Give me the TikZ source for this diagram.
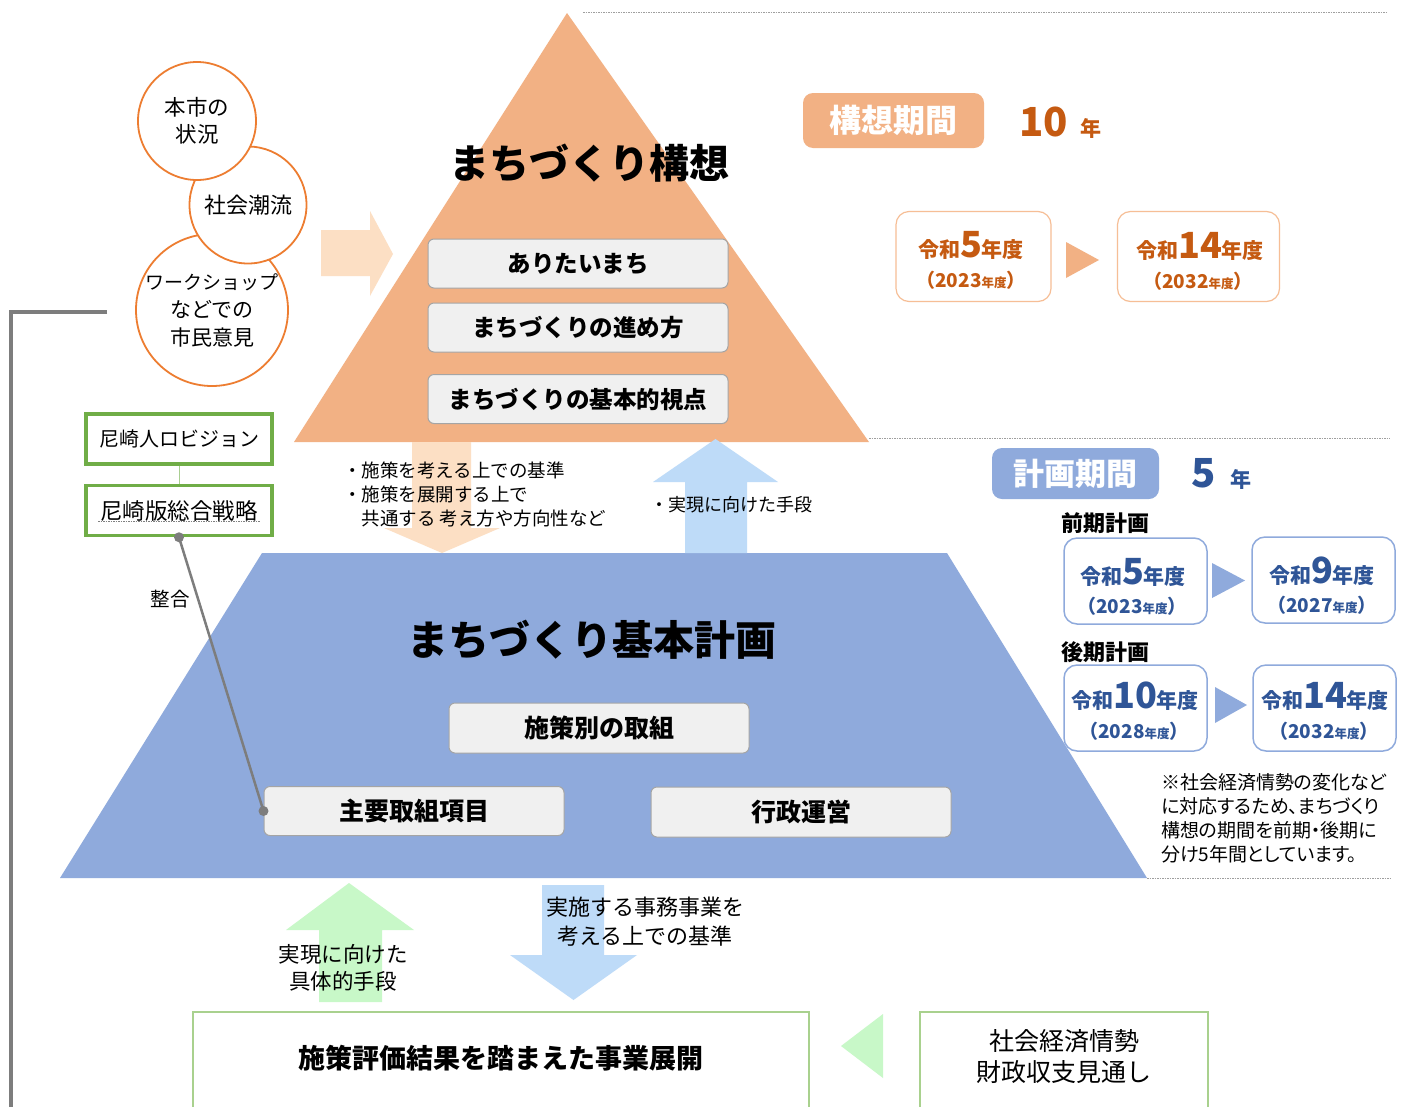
\documentclass[tikz,border=0pt]{standalone}
\usepackage{fontspec}
\setmainfont{Noto Sans CJK JP}
\newfontfamily\jpp[RawFeature=+palt]{Noto Sans CJK JP}
\usetikzlibrary{calc}
\definecolor{tri}{RGB}{242,177,132}
\definecolor{peach}{RGB}{252,223,196}
\definecolor{trap}{RGB}{143,170,220}
\definecolor{lblue}{RGB}{190,219,248}
\definecolor{lgreen}{RGB}{200,248,200}
\definecolor{circo}{RGB}{237,125,49}
\definecolor{gboxc}{RGB}{112,173,71}
\definecolor{boxfill}{RGB}{240,240,240}
\definecolor{boxline}{RGB}{165,165,165}
\definecolor{otext}{RGB}{197,90,17}
\definecolor{oborder}{RGB}{246,190,150}
\definecolor{btext}{RGB}{47,85,151}
\definecolor{bborder}{RGB}{143,170,220}
\definecolor{bgreen}{RGB}{169,209,142}
\definecolor{lnGray}{RGB}{125,125,125}
\newcommand{\myfs}[1]{\fontsize{#1}{#1}\selectfont}
\newcommand{\prdtop}[1]{{\myfs{21}令和}{\myfs{36}#1}{\myfs{21}年度}}
\newcommand{\prdbot}[1]{{\myfs{19}（#1{\myfs{12.5}年度}）}}
\tikzset{
  grbox/.style={draw=boxline, fill=boxfill, line width=1pt, rounded corners=6pt, minimum width=300pt, minimum height=49pt, inner sep=0pt, font=\myfs{23.5}\bfseries},
  lobox/.style={grbox, font=\myfs{25}\bfseries},
  circ/.style={circle, draw=circo, fill=white, line width=1.8pt, inner sep=0pt, align=center},
  gbox/.style={draw=gboxc, fill=white, line width=3.5pt, minimum width=186pt, minimum height=50pt, inner sep=0pt},
  obox/.style={draw=oborder, fill=white, rounded corners=13pt, line width=1.2pt, inner sep=0pt},
  bbox/.style={draw=bborder, fill=white, rounded corners=13pt, line width=1.5pt, inner sep=0pt},
  otxt/.style={anchor=base, inner sep=0pt, text=otext, font=\bfseries},
  btxt/.style={anchor=base, inner sep=0pt, text=btext, font=\bfseries},
  dotline/.style={draw=gray!75, line width=0.8pt, dash pattern=on 1.5pt off 1pt},
  plain/.style={inner sep=0pt, align=center},
  btmbox/.style={draw=bgreen, fill=white, line width=1.2pt, inner sep=0pt}
}
\begin{document}
\begin{tikzpicture}[x=1pt,y=-1pt]
\useasboundingbox (0,0) rectangle (1410,1106);
\fill[white] (0,0) rectangle (1410,1106);

% dotted separators
\draw[dotline] (583,12) -- (1388,12);
\draw[dotline] (869,438) -- (1390,438);
\draw[dotline] (1147,878) -- (1390,878);

% left gray L line
\coordinate (lstart) at (107,312);
\coordinate (lcorner) at (11,312);
\coordinate (lend) at (11,1110);
\draw[lnGray, line width=4pt] (lstart) -- (lcorner) -- (lend);

% pyramid top
\fill[tri] (567,13) -- (869,442) -- (294,442) -- cycle;
% trapezoid
\fill[trap] (262,553) -- (947,553) -- (1147,878) -- (60,878) -- cycle;

% arrows
\fill[peach] (321,230) -- (370,230) -- (370,211) -- (393,254) -- (370,296) -- (370,276) -- (321,276) -- cycle;
\fill[peach] (412,442) -- (471,442) -- (471,528) -- (500,528) -- (442,553) -- (384,528) -- (412,528) -- cycle;
\fill[lblue] (685,553) -- (685,482) -- (653,482) -- (715.5,439) -- (778,482) -- (747,482) -- (747,553) -- cycle;
\fill[lgreen] (319,1002) -- (319,930) -- (286,930) -- (349,883) -- (414,930) -- (382,930) -- (382,1002) -- cycle;
\fill[lblue] (542,885) -- (604,885) -- (604,955) -- (637,955) -- (573.5,1000) -- (510,955) -- (542,955) -- cycle;
\fill[lgreen] (883,1014) -- (883,1078) -- (841,1046) -- cycle;

% circles
\node[circ, minimum size=150pt, font=\myfs{21}] (c3) at (212,310) {{\myfs{19}ワークショップ}\\[7pt]などでの\\[7pt]市民意見};
\node[circ, minimum size=117pt, font=\myfs{22}] (c2) at (248,205) {社会潮流};
\node[circ, minimum size=118pt, font=\myfs{21.5}] (c1) at (197,121) {本市の\\[6pt]状況};

% green boxes
\node[gbox, font=\myfs{20}] (vis) at (179,439) {尼崎人ロビジョン};
\node[gbox, font=\myfs{22.5}] (sen) at (179,510.5) {尼崎版総合戦略};
\draw[gboxc!60, line width=1pt] (vis.south) -- (sen.north);
\draw[gray, line width=0.8pt, dash pattern=on 1.5pt off 1pt] ($(sen.center)+(-81,11)$) -- ($(sen.center)+(81,11)$);

% titles
\node[plain, font=\myfs{40}\bfseries] (t1) at (589,163) {まちづくり構想};
\node[plain, font=\myfs{41}\bfseries] (t2) at (592,640) {まちづくり基本計画};

% top boxes
\node[grbox] (b1) at (578,263.5) {ありたいまち};
\node[grbox] (b2) at (578,327.5) {まちづくりの進め方};
\node[grbox] (b3) at (578,399) {まちづくりの基本的視点};

% lower boxes
\node[lobox, minimum height=50pt] (s1) at (599,728) {施策別の取組};
\node[lobox] (s2) at (414,811) {主要取組項目};
\node[lobox, minimum height=50pt] (s3) at (801,812) {行政運営};

% seigou line
\draw[lnGray, line width=2.5pt] (sen.south) -- (s2.west);
\fill[lnGray] (sen.south) circle (5pt);
\fill[lnGray] (s2.west) circle (5pt);
\node[plain, font=\myfs{19.5}] (seigou) at (170,599) {整合};

% middle texts
\node[inner sep=0pt, align=left, anchor=west, font=\myfs{18.5}] (mid1) at (343,494) {・施策を考える上での基準\\[5.5pt]・施策を展開する上で\\[5.5pt]　共通する 考え方や方向性など};
\node[inner sep=0pt, anchor=west, font=\myfs{18}] (mid2) at (650,505) {・実現に向けた手段};

% bottom texts
\node[plain, font=\myfs{22}] (bt1) at (645,922) {実施する事務事業を\\[7pt]考える上での基準};
\node[plain, font=\myfs{21.5}] (bt2) at (343,968) {実現に向けた\\[6pt]具体的手段};

% bottom boxes
\node[btmbox, minimum width=616pt, minimum height=108pt] (bb1) at (501,1066) {};
\node[plain, font=\myfs{27}\bfseries] (bb1t) at (501,1058) {施策評価結果を踏まえた事業展開};
\node[btmbox, minimum width=288pt, minimum height=108pt] (bb2) at (1064,1066) {};
\node[plain, font=\myfs{25}] (bb2t) at (1064,1057) {社会経済情勢\\[6pt]財政収支見通し};

% right panel: kousou
\node[fill=tri, rounded corners=10pt, minimum width=181pt, minimum height=55pt, inner sep=0pt, text=white, font=\myfs{32}\bfseries] (kk) at (893.5,120.5) {構想期間};
\node[otxt, anchor=base west, font=\myfs{40}\bfseries] (k10) at (1019,136) {10};
\node[otxt, anchor=base west, font=\myfs{21}\bfseries] (k10y) at (1080,136) {年};

\node[obox, minimum width=155pt, minimum height=90pt] (o1) at (973.5,256.5) {};
\node[otxt] (o1a) at (971,257) {\prdtop{5}};
\node[otxt] (o1b) at (971,287) {\prdbot{2023}};
\fill[tri] (1066,242) -- (1099,260) -- (1066,278) -- cycle;
\node[obox, minimum width=162pt, minimum height=90pt] (o2) at (1198.5,256.5) {};
\node[otxt] (o2a) at (1200,258) {\prdtop{14}};
\node[otxt] (o2b) at (1198,288) {\prdbot{2032}};

% right panel: keikaku
\node[fill=trap, rounded corners=10pt, minimum width=167pt, minimum height=51pt, inner sep=0pt, text=white, font=\myfs{31}\bfseries] (kp) at (1075.5,473.5) {計画期間};
\node[btxt, anchor=base west, font=\myfs{40}\bfseries] (k5) at (1191,487) {5};
\node[btxt, anchor=base west, font=\myfs{21}\bfseries] (k5y) at (1230,487) {年};

\node[plain, font=\myfs{22}\bfseries] (zenki) at (1105,523) {前期計画};
\node[plain, font=\myfs{22}\bfseries] (kouki) at (1105,652) {後期計画};

\node[bbox, minimum width=143pt, minimum height=86pt] (p1) at (1135.5,581) {};
\node[btxt] (p1a) at (1133,584) {\prdtop{5}};
\node[btxt] (p1b) at (1132,613) {\prdbot{2023}};
\fill[trap] (1212,563) -- (1245,580.5) -- (1212,598) -- cycle;
\node[bbox, minimum width=143pt, minimum height=86pt] (p2) at (1323.5,580) {};
\node[btxt] (p2a) at (1322,583) {\prdtop{9}};
\node[btxt] (p2b) at (1322,612) {\prdbot{2027}};

\node[bbox, minimum width=143pt, minimum height=86pt] (p3) at (1135.5,708) {};
\node[btxt] (p3a) at (1135,708) {\prdtop{10}};
\node[btxt] (p3b) at (1134,738) {\prdbot{2028}};
\fill[trap] (1215,687) -- (1247,705) -- (1215,723) -- cycle;
\node[bbox, minimum width=143pt, minimum height=86pt] (p4) at (1324.5,708) {};
\node[btxt] (p4a) at (1325,708) {\prdtop{14}};
\node[btxt] (p4b) at (1324,738) {\prdbot{2032}};

% note
\node[inner sep=0pt, align=left, anchor=west, font=\jpp\myfs{19}] (note) at (1161,818) {※社会経済情勢の変化など\\[5pt]に対応するため、まちづくり\\[5pt]構想の期間を前期・後期に\\[5pt]分け5年間としています。};
\end{tikzpicture}
\end{document}
